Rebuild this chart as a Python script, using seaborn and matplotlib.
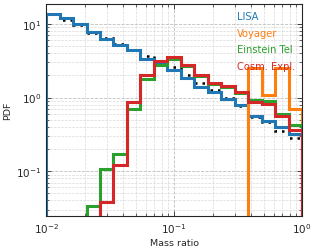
import numpy as np
import pandas as pd
import matplotlib
matplotlib.use("Agg")
import matplotlib.pyplot as plt
import seaborn as sns

# bin edges: 19 log bins between 1e-2 and 1
edges = np.logspace(-2, 0, 20)

# PDF per bin
lisa = [13.8, 11.9, 10.0, 7.8, 6.3, 5.2, 4.4, 3.35, 2.9, 2.4,
        1.85, 1.4, 1.2, 0.97, 0.8, 0.57, 0.48, 0.40, 0.32]
voyager = [0, 0, 0, 0, 0, 0, 0, 0, 0, 0,
           0, 0, 0, 0, 0, 2.55, 1.1, 2.55, 0.69]
einstein = [0, 0, 0, 0.034, 0.106, 0.17, 0.71, 1.78, 2.75, 3.3,
            2.7, 1.95, 1.55, 1.4, 1.15, 0.92, 0.9, 0.6, 0.43]
cosmic = [0, 0, 0, 0, 0.038, 0.12, 0.88, 2.05, 3.1, 3.6,
          2.8, 2.0, 1.6, 1.45, 1.2, 0.87, 0.82, 0.56, 0.36]
# reference (black dotted)
ref = [13.8, 11.3, 9.6, 7.6, 6.4, 5.35, 4.5, 3.7, 2.95, 2.6,
       2.0, 1.6, 1.25, 1.0, 0.77, 0.55, 0.47, 0.35, 0.28]

labels = ["LISA", "Voyager", "Einstein Tel", "Cosm. Expl."]
colors = ["#1f77b4", "#ff7f0e", "#2ca02c", "#d62728"]

sns.set_style("ticks")
plt.rcParams['font.family'] = ['DejaVu Sans']
plt.rcParams['mathtext.fontset'] = 'cm'

centers = np.sqrt(edges[:-1] * edges[1:])
df = pd.DataFrame({"q": centers, "LISA": lisa, "Voyager": voyager,
                   "Einstein Tel": einstein, "Cosm. Expl.": cosmic, "ref": ref})

fig = plt.figure(figsize=(3.16, 2.51), dpi=100)
ax = fig.add_axes([0.146, 0.135, 0.81, 0.845])

for lab, col in zip(labels, colors):
    ax.hist(df["q"], bins=edges, weights=df[lab], histtype="step",
            color=col, lw=2.2, label=lab)
ax.stairs(df["ref"], edges, baseline=None, color="k", ls=(0, (1, 2)), lw=1.8)

ax.set_xscale("log")
ax.set_yscale("log")
ax.set_xlim(1e-2, 1)
ax.set_ylim(0.0245, 18.7)

ax.grid(True, which="major", ls="--", color="0.75", lw=0.6)
ax.grid(True, which="minor", ls="--", color="0.85", lw=0.5)
ax.tick_params(which="both", direction="in", top=True, right=True, labelsize=7.5)
ax.tick_params(which="major", length=3.5, width=0.6)
ax.tick_params(which="minor", length=2, width=0.5)
for s in ax.spines.values():
    s.set_linewidth(0.8)

ax.set_xlabel("Mass ratio", fontsize=6.8, labelpad=2)
ax.set_ylabel("PDF", fontsize=6.8, labelpad=3)

leg = ax.legend(loc="upper right", frameon=False, handlelength=0, handletextpad=0,
                fontsize=7.1, labelspacing=0.68, borderaxespad=0.3)
for h in leg.legend_handles:
    h.set_visible(False)
for t, col in zip(leg.get_texts(), colors):
    t.set_color(col)

fig.savefig("out.png", dpi=100)
